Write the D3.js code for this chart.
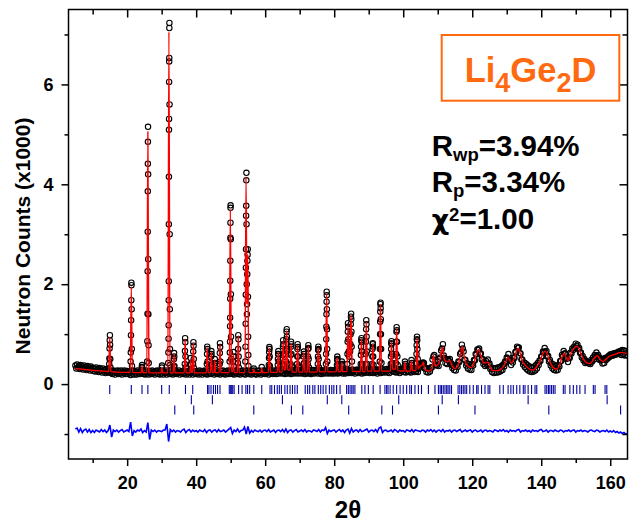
<!DOCTYPE html>
<html><head><meta charset="utf-8">
<script src="https://cdn.jsdelivr.net/npm/d3@7"></script>
<style>
body{margin:0;background:#fff}
svg{display:block}
text{font-family:Arial,"Liberation Sans",Helvetica,sans-serif;font-weight:bold}
</style>
</head><body>
<svg id="c" width="630" height="525"></svg>
<script>
// ===== DATA (2θ in degrees, counts in units of 1000) =====
const xMajorTicks = [20,40,60,80,100,120,140,160];
const xMinorTicks = [10,30,50,70,90,110,130,150];
const yMajorTicks = [0,2,4,6];
const yMinorTicks = [-1,1,3,5,7];

// observed scan, regular step
const scanStart = 5, scanStep = 0.25;
const obsCounts = [
.37,.31,.39,.33,.36,.30,.38,.32,.35,.29,.37,.31,.34,.28,.36,.30,.33,.27,.35,.29,
.32,.26,.31,.25,.33,.27,.30,.24,.32,.26,.29,.23,.31,.25,.28,.22,.30,.24,.27,.23,
.27,.22,.26,.20,.27,.23,.19,.26,.22,.27,.20,.25,.21,.27,.19,.25,.22,.27,.20,.24,
.26,.20,.25,.22,.18,.27,.21,.25,.19,.26,.23,.19,.27,.21,.24,.20,.26,.22,.27,.20,
.24,.19,.27,.21,.25,.19,.26,.22,.20,.27,.21,.25,.19,.26,.22,.27,.20,.24,.19,.26,
.21,.26,.19,.25,.22,.27,.19,.24,.21,.26,.20,.27,.22,.19,.25,.21,.27,.20,.24,.22,
.27,.19,.24,.21,.26,.20,.27,.22,.19,.25,.21,.26,.19,.27,.22,.24,.19,.26,.21,.25,
.20,.26,.22,.19,.27,.21,.25,.19,.26,.22,.27,.20,.24,.19,.26,.21,.27,.20,.25,.22,
.26,.19,.24,.21,.27,.20,.25,.22,.19,.26,.21,.27,.20,.24,.19,.26,.22,.27,.20,.25,
.21,.27,.20,.24,.19,.26,.22,.27,.20,.25,.21,.19,.26,.22,.27,.20,.24,.19,.26,.22,
.27,.20,.25,.21,.19,.26,.22,.27,.20,.24,.19,.26,.21,.27,.22,.19,.25,.21,.27,.23,
.20,.27,.22,.25,.19,.28,.21,.26,.23,.20,.27,.22,.25,.20,.28,.21,.26,.22,.27,.21,
.28,.22,.26,.20,.27,.23,.21,.28,.22,.26,.20,.27,.23,.28,.21,.25,.22,.28,.21,.26,
.22,.28,.21,.26,.23,.28,.20,.27,.22,.25,.21,.28,.23,.20,.27,.22,.28,.21,.26,.23,
.28,.21,.26,.23,.28,.20,.27,.22,.25,.21,.28,.23,.27,.21,.26,.22,.28,.21,.27,.23,
.21,.28,.23,.27,.21,.26,.22,.29,.23,.27,.21,.28,.24,.21,.29,.23,.27,.22,.28,.24,
.22,.29,.23,.27,.21,.28,.24,.29,.22,.27,.23,.29,.21,.28,.24,.22,.29,.23,.28,.24,
.29,.22,.27,.24,.30,.22,.28,.23,.29,.24,.21,.29,.25,.28,.22,.30,.24,.27,.23,.29,
.24,.30,.23,.28,.22,.29,.31,.34,.26,.30,.24,.29,.23,.30,.25,.29,.22,.30,.25,.28,
.31,.24,.29,.23,.30,.25,.31,.24,.29,.23,.31,.26,.29,.24,.31,.25,.30,.24,.31,.35,
.40,.37,.41,.43,.42,.31,.32,.24,.31,.23,.30,.25,.33,.33,.49,.55,.58,.38,.39,.37,
.45,.36,.50,.53,.67,.71,.80,.57,.52,.42,.50,.40,.49,.46,.50,.39,.41,.32,.37,.28,
.35,.27,.38,.34,.45,.44,.60,.63,.79,.71,.65,.49,.48,.37,.41,.31,.40,.29,.38,.28,
.40,.37,.48,.47,.60,.59,.69,.68,.71,.60,.61,.49,.50,.40,.44,.36,.46,.38,.49,.39,
.41,.30,.33,.24,.32,.22,.31,.23,.32,.23,.33,.24,.34,.26,.36,.28,.39,.35,.45,.43,
.53,.51,.60,.47,.48,.38,.47,.43,.53,.52,.64,.64,.75,.72,.73,.62,.61,.49,.49,.39,
.43,.34,.41,.30,.38,.27,.35,.25,.34,.24,.33,.25,.35,.27,.38,.31,.42,.38,.47,.46,
.55,.55,.65,.63,.72,.63,.66,.55,.56,.45,.48,.37,.41,.31,.39,.28,.36,.27,.36,.28,
.38,.35,.46,.46,.58,.55,.66,.61,.61,.50,.52,.44,.53,.52,.63,.61,.71,.68,.75,.72,
.81,.76,.79,.70,.72,.62,.63,.53,.56,.47,.50,.42,.46,.43,.44,.41,.43,.40,.48,.45,
.53,.49,.58,.55,.63,.55,.58,.49,.52,.47,.49,.41,.50,.42,.52,.48,.53,.51,.56,.54,
.59,.56,.60,.57,.61,.58,.62,.59,.63,.61,.65,.62,.66,.58,.68,.59,.67,.57,.66,.58,
.63];

// observed points on the flanks/tops of the sharp Bragg peaks [2θ, counts]
const peakObs = [
[14.8,.4],[14.85,.51],[14.9,.71],[14.95,.88],[15,.98],[15.05,.79],[15.1,.5],[15.15,.33],
[21,.45],[21.05,.63],[21.1,.98],[21.15,1.28],[21.2,1.68],[21.22,2.03],[21.25,1.98],[21.3,1.5],[21.35,.7],[21.4,.36],
[24.25,.34],[24.3,.38],[24.35,.33],
[25.8,.45],[25.85,.86],[25.9,1.41],[25.93,2.26],[25.96,3.05],[25.98,3.86],[26,4.41],[26.02,4.85],[26.05,5.15],[26.08,4.2],[26.1,2.5],[26.15,1.4],[26.2,.78],[26.25,.42],
[30.05,.33],[30.1,.37],
[31.9,.42],[31.95,.63],[32,.91],[32.02,1.18],[32.04,1.68],[32.06,2.06],[32.08,3.2],[32.1,4.15],[32.12,5.09],[32.14,5.31],[32.16,6.05],[32.18,6.46],[32.2,6.53],[32.22,7.13],[32.24,7.23],[32.28,5.6],[32.32,3],[32.36,1.5],[32.4,.7],[32.45,.38],
[33.5,.35],[33.55,.5],[33.6,.62],[33.65,.55],[33.7,.36],
[36.7,.4],[36.75,.66],[36.8,.92],[36.85,.84],[36.9,.55],[36.95,.33],
[38.35,.4],[38.4,.52],[38.45,.38],
[39.1,.4],[39.15,.65],[39.2,.84],[39.25,.77],[39.3,.5],[39.35,.32],
[43.1,.4],[43.15,.6],[43.2,.75],[43.25,.7],[43.3,.45],
[44.3,.38],[44.35,.55],[44.4,.66],[44.45,.6],[44.5,.38],
[45.35,.37],[45.4,.5],[45.45,.42],
[46.8,.4],[46.85,.62],[46.9,.82],[46.95,.74],[47,.45],
[49.7,.45],[49.75,.63],[49.8,.85],[49.82,1.16],[49.84,1.33],[49.86,1.71],[49.88,2.07],[49.9,2.47],[49.92,2.93],[49.94,3.23],[49.96,3.53],[49.98,3.58],[50.02,2.9],[50.06,1.8],[50.1,.95],[50.15,.5],
[50.75,.45],[50.8,.64],[50.85,.55],[50.9,.35],
[52.1,.42],[52.15,.7],[52.2,.98],[52.25,.9],[52.3,.55],[52.35,.33],
[54.25,.45],[54.3,.75],[54.35,1.21],[54.38,1.79],[54.41,2.33],[54.44,2.7],[54.47,3.37],[54.5,3.57],[54.53,4.08],[54.56,4.23],[54.6,3.2],[54.65,2],[54.7,1.4],[54.75,1.6],[54.8,2.2],[54.85,2.47],[54.9,2.59],[54.95,2.7],[55,1.75],[55.05,.95],[55.1,.58],[55.15,.36],
[56.7,.31],[59,.34],
[61.05,.38],[61.1,.52],[61.15,.64],[61.2,.74],[61.25,.7],[61.3,.55],[61.35,.36],
[63.65,.38],[63.7,.5],[63.75,.6],[63.8,.66],[63.85,.6],[63.9,.45],
[65.05,.4],[65.1,.58],[65.15,.76],[65.2,.88],[65.25,.8],[65.3,.6],[65.4,.38],
[66.05,.45],[66.1,.66],[66.15,.9],[66.2,1.05],[66.25,1.1],[66.3,.95],[66.35,.7],[66.45,.4],
[67.35,.4],[67.4,.58],[67.45,.75],[67.5,.85],[67.55,.8],[67.6,.6],[67.7,.35],
[69.25,.4],[69.3,.55],[69.35,.7],[69.4,.8],[69.45,.74],[69.5,.55],[69.6,.35],
[71.1,.4],[71.15,.55],[71.2,.65],[71.25,.6],[71.3,.42],
[72.35,.4],[72.4,.55],[72.45,.7],[72.5,.78],[72.55,.72],[72.6,.5],[72.7,.33],
[75.25,.4],[75.3,.55],[75.35,.68],[75.4,.75],[75.45,.7],[75.5,.5],[75.6,.33],
[77.6,.4],[77.65,.6],[77.7,.9],[77.73,1.15],[77.76,1.4],[77.79,1.65],[77.82,1.85],[77.85,1.78],[77.88,1.5],[77.92,1.1],[77.96,.7],[78,.45],
[80.8,.38],[80.85,.48],[80.9,.55],[80.95,.5],[81,.36],
[82.15,.38],[82.2,.45],[82.25,.4],
[83.8,.4],[83.85,.6],[83.9,.85],[83.95,1.05],[84,1.22],[84.05,1.15],[84.1,.9],[84.2,.65],[84.3,.55],
[84.6,.65],[84.7,.8],[84.75,1],[84.8,1.2],[84.85,1.35],[84.9,1.41],[84.95,1.3],[85,1.05],[85.05,.75],[85.15,.45],
[87.7,.4],[87.75,.58],[87.8,.75],[87.85,.88],[87.9,.92],[87.95,.85],[88,.65],[88.1,.4],
[89.1,.4],[89.15,.6],[89.2,.85],[89.25,1.1],[89.3,1.28],[89.35,1.2],[89.4,.95],[89.45,.65],[89.55,.4],
[91,.4],[91.05,.55],[91.1,.7],[91.15,.8],[91.2,.82],[91.25,.75],[91.3,.55],[91.4,.38],
[93.2,.45],[93.25,.7],[93.3,1],[93.33,1.25],[93.36,1.45],[93.4,1.6],[93.43,1.63],[93.46,1.52],[93.5,1.3],[93.55,1],[93.6,.7],[93.7,.42],
[96.4,.4],[96.45,.55],[96.5,.7],[96.55,.82],[96.6,.86],[96.65,.8],[96.7,.6],[96.8,.42],
[97.9,.42],[97.95,.6],[98,.85],[98.05,1.05],[98.1,1.14],[98.15,1.08],[98.2,.85],[98.3,.55],[98.4,.38],
[100.4,.36],[100.5,.45],[100.6,.4],
[102.3,.38],[102.4,.48],[102.5,.42],
[103.8,.42],[103.85,.6],[103.9,.78],[103.95,.9],[104,.95],[104.05,.88],[104.1,.7],[104.2,.5]
];

// calculated (Rietveld) profile [2θ, counts]
const calcProfile = [
[5,.31],[6,.305],[7,.30],[8,.29],[9,.285],[10,.275],[11,.27],[12,.265],[13,.26],[14,.255],
[14.65,.25],[14.95,.94],[15.25,.25],[17,.24],[19,.235],[20.9,.235],[21.2,1.95],[21.5,.235],[23,.23],
[24.05,.23],[24.3,.36],[24.55,.23],[25.7,.23],[26.0,5.05],[26.3,.23],[28,.225],[29.8,.225],[30.05,.33],[30.3,.225],
[31.8,.225],[32.1,7.05],[32.4,.225],[33.35,.225],[33.6,.6],[33.85,.225],[35,.225],[36.55,.225],[36.8,.9],[37.05,.225],
[38.2,.225],[38.4,.5],[38.6,.235],[38.95,.23],[39.2,.82],[39.45,.225],[41,.225],[42.95,.225],[43.2,.73],[43.45,.23],
[44.15,.23],[44.4,.64],[44.65,.23],[45.2,.23],[45.4,.48],[45.6,.23],[46.65,.23],[46.9,.8],[47.15,.23],[48.5,.23],
[49.6,.23],[49.9,3.5],[50.2,.25],[50.6,.25],[50.8,.62],[51.0,.23],[51.95,.23],[52.2,.97],[52.45,.23],
[54.15,.23],[54.45,4.15],[54.7,1.6],[54.95,2.6],[55.25,.23],[56.5,.23],[56.7,.3],[56.9,.23],[58.75,.23],[59.0,.32],[59.25,.23],
[60.9,.235],[61.2,.72],[61.5,.235],[63.5,.235],[63.8,.64],[64.1,.24],[64.9,.24],[65.2,.86],[65.5,.28],[65.9,.3],[66.2,1.07],[66.5,.28],
[67.2,.28],[67.5,.82],[67.8,.24],[69.1,.24],[69.4,.78],[69.7,.24],[70.9,.24],[71.2,.63],[71.5,.24],[72.2,.24],[72.5,.76],[72.8,.24],
[75.1,.245],[75.4,.73],[75.7,.245],[77.5,.245],[77.8,1.8],[78.1,.245],[80.6,.25],[80.9,.53],[81.2,.25],[81.95,.25],[82.2,.43],[82.45,.25],
[83.7,.25],[84.0,1.18],[84.3,.5],[84.6,.6],[84.9,1.38],[85.2,.26],[87.6,.25],[87.9,.9],[88.2,.25],[89.0,.25],[89.3,1.25],[89.6,.26],
[90.9,.26],[91.2,.8],[91.5,.26],[93.1,.26],[93.4,1.6],[93.7,.26],[96.3,.26],[96.6,.84],[96.9,.3],[97.8,.3],[98.1,1.1],[98.4,.27],
[100.2,.26],[100.5,.44],[100.8,.26],[102.1,.26],[102.4,.46],[102.7,.27],[103.7,.27],[104.0,.92],[104.3,.3],[104.9,.36],
[105.5,.38],[105.8,.44],[106.2,.3],[106.8,.27],[107.4,.26],[108.3,.3],[108.8,.58],[109.3,.36],[110.2,.4],[110.8,.55],[111.4,.74],
[111.9,.5],[112.6,.45],[113.5,.47],[114.2,.36],[115.0,.31],[116.0,.4],[116.6,.6],[117.1,.75],[117.6,.58],[118.3,.4],[119.0,.35],
[119.8,.33],[120.6,.45],[121.2,.6],[121.9,.69],[122.6,.55],[123.4,.42],[124.6,.44],[125.3,.32],[126.1,.27],[127.2,.27],[128.3,.3],
[129.3,.38],[130.4,.54],[131.3,.42],[132.2,.52],[132.8,.66],[133.3,.72],[133.9,.62],[134.6,.45],[135.5,.37],[136.6,.3],[137.7,.28],
[138.7,.35],[139.6,.45],[140.4,.6],[141.1,.66],[141.7,.6],[142.5,.45],[143.5,.33],[144.5,.3],[145.4,.4],[146.1,.56],[146.7,.62],
[147.3,.52],[147.8,.47],[148.5,.6],[149.3,.7],[150.4,.76],[151.3,.64],[152.2,.5],[153.1,.43],[154.1,.41],[155.2,.5],[156.2,.57],
[157.0,.5],[157.9,.45],[158.8,.5],[159.8,.56],[160.6,.58],[161.6,.6],[162.6,.63],[163.5,.63],[164.3,.62],[165,.61]
];

// difference curve (obs - calc), regular step, plotted with an offset
const diffStart = 5, diffStep = 0.5, diffOffset = -0.94;
const diffCounts = [
.04,.06,-.02,.05,-.03,.02,.04,-.02,.03,-.03,
.01,-.03,.02,.00,-.02,.03,-.01,.02,-.03,.01,
.12,-.12,.02,-.01,.02,-.02,.01,.03,-.02,.00,
.02,-.01,.18,-.10,.01,-.02,.02,.00,.04,-.03,
.01,-.02,.17,-.17,.02,-.01,.02,-.02,.01,.00,
-.01,.02,.02,.14,-.21,.03,-.01,.02,-.02,.01,
.00,-.02,.02,.04,-.03,.01,.03,-.02,.02,-.01,
.01,-.02,.02,.00,-.01,.03,-.03,.01,.02,-.02,
.01,.02,-.02,.03,-.01,.00,.02,-.02,.01,.04,
.07,-.05,.02,-.01,.04,-.02,.01,.02,.08,-.06,
.09,-.04,.01,-.02,.02,.00,-.01,.02,-.02,.01,
.02,-.01,.03,-.02,.00,.02,-.03,.01,.02,-.01,
.03,-.02,.04,-.03,.01,.02,-.02,.01,.03,-.02,
.00,.02,-.01,.03,-.02,.01,.00,-.02,.02,.01,
-.01,.03,-.02,.02,.01,.07,-.05,.02,-.01,.01,
.02,-.02,.01,.03,-.01,.02,-.03,.02,.04,-.04,
.05,-.02,.01,.02,-.02,.03,-.01,.00,.02,.04,
-.02,.01,.02,-.01,.03,-.02,.06,.08,-.03,.01,
.02,-.01,.00,.02,-.02,.03,.01,-.02,.02,.00,
.01,-.02,.02,.01,-.01,.03,-.02,.02,.01,.00,
-.01,.02,.01,-.02,.02,.00,.03,-.01,.02,-.02,
.01,.02,-.01,.03,-.02,.01,.00,.02,-.02,.01,
.02,-.01,.01,.03,-.02,.00,.02,-.01,.01,.02,
-.02,.01,.02,-.01,.00,.02,-.02,.01,.02,-.01,
.01,.00,-.02,.02,.01,-.01,.02,.00,.03,-.01,
.01,-.02,.02,.00,.01,-.01,.02,.03,-.02,.01,
.00,.02,-.01,.01,-.02,.02,.00,.01,-.01,.02,
.03,-.01,.00,.02,-.02,.01,.01,-.01,.02,.00,
-.01,.02,.01,-.02,.01,.00,.02,-.01,.01,.02,
-.02,.01,.00,.02,-.01,.01,.00,-.02,.01,.02,
.00,-.01,.02,.01,-.02,.00,.01,-.01,.02,-.02,
.00,-.02,.01,-.03,-.01,-.04,-.02,-.05,-.03,-.06,
-.05];

// Bragg reflection positions (2θ) for the three phases
const reflPhase1 = [14.95,21.2,24.3,26.0,30.0,32.2,36.9,39.0,43.3,43.7,44.3,45.0,45.6,46.2,46.9,49.6,50.0,50.3,50.6,51.0,
52.3,53.3,54.4,54.9,55.5,56.7,59.0,61.4,61.9,62.7,63.5,64.1,64.7,65.7,66.4,67.2,67.9,68.6,69.3,71.6,72.3,72.9,73.8,74.4,
75.4,76.1,76.8,77.6,78.6,79.3,79.9,80.7,81.7,83.6,84.1,84.6,85.1,85.5,86.0,88.0,88.9,89.9,91.3,93.3,94.7,95.2,95.6,96.2,
97.1,98.1,99.1,100.0,101.0,101.9,102.4,103.4,104.4,105.3,107.3,109.2,110.2,110.7,111.1,111.6,112.1,112.6,113.0,113.5,
114.0,115.9,116.4,116.9,117.4,117.9,118.4,119.3,120.3,121.3,121.7,122.7,123.7,124.6,125.1,128.0,129.0,130.4,131.2,131.9,
132.9,133.8,134.8,135.3,136.2,137.2,138.2,138.7,141.1,141.6,142.1,142.5,143.0,143.5,144.0,146.4,146.9,148.3,149.3,150.3,
151.2,152.7,155.1,155.6,158.5,159.0];
const reflPhase2 = [38.6,44.7,65.0,78.0,82.2,98.7,111.3,116.0,136.2,159.1];
const reflPhase3 = [33.8,39.3,56.7,67.6,70.9,84.2,93.8,96.9,110.2,120.8,142.2,163.0];

const sampleName = ["Li","4","Ge","2","D"];
const fitStats = [
  {main:"R", idx:"wp", kind:"sub", rest:"=3.94%"},
  {main:"R", idx:"p",  kind:"sub", rest:"=3.34%"},
  {main:"\u03C7", idx:"2", kind:"sup", rest:"=1.00"}
];

// ===== DRAWING =====
const svg = d3.select("#c");
const L=68.5, R=627.5, T=9.5, B=459;
const x = d3.scaleLinear().domain([3,165]).range([L,R]);
const y = d3.scaleLinear().domain([-1.5,7.5]).range([B,T]);

svg.append("defs").append("clipPath").attr("id","clip")
  .append("rect").attr("x",L).attr("y",T).attr("width",R-L).attr("height",B-T);
const plot = svg.append("g").attr("clip-path","url(#clip)");

const obsPts = obsCounts.map((c,i)=>[scanStart+i*scanStep, c]).concat(peakObs);
plot.append("g").selectAll("circle").data(obsPts).join("circle")
  .attr("cx",d=>x(d[0])).attr("cy",d=>y(d[1])).attr("r",2.7)
  .attr("fill","none").attr("stroke","#000").attr("stroke-width",1.1);

plot.append("path").datum(calcProfile)
  .attr("d", d3.line().x(d=>x(d[0])).y(d=>y(d[1])).curve(d3.curveMonotoneX))
  .attr("fill","none").attr("stroke","#ff0000").attr("stroke-width",1.4);

// reflection tick rows
[reflPhase1, reflPhase2, reflPhase3].forEach((arr,k)=>{
  const top = -0.02 - 0.205*k, bot = top - 0.18;
  plot.append("g").selectAll("line").data(arr).join("line")
    .attr("x1",d=>x(d)).attr("x2",d=>x(d)).attr("y1",y(top)).attr("y2",y(bot))
    .attr("stroke","#0000a0").attr("stroke-width",1.1);
});

const diffPts = diffCounts.map((c,i)=>[diffStart+i*diffStep, diffOffset+c]);
plot.append("path").datum(diffPts)
  .attr("d", d3.line().x(d=>x(d[0])).y(d=>y(d[1])))
  .attr("fill","none").attr("stroke","#0000ff").attr("stroke-width",1.6);

// frame
svg.append("rect").attr("x",L).attr("y",T).attr("width",R-L).attr("height",B-T)
  .attr("fill","none").attr("stroke","#000").attr("stroke-width",1.5);

function styleAxis(g, fs){
  g.select(".domain").remove();
  g.selectAll(".tick line").attr("stroke","#000").attr("stroke-width",1.5);
  g.selectAll("text").attr("fill","#000").style("font-size",fs+"px").style("font-weight","bold");
}
styleAxis(svg.append("g").attr("transform",`translate(0,${B})`)
  .call(d3.axisBottom(x).tickValues(xMajorTicks).tickSize(7).tickPadding(10).tickFormat(d3.format("d"))),18);
styleAxis(svg.append("g").attr("transform",`translate(0,${B})`)
  .call(d3.axisBottom(x).tickValues(xMinorTicks).tickSize(4).tickFormat("")),18);
styleAxis(svg.append("g").attr("transform",`translate(0,${T})`)
  .call(d3.axisTop(x).tickValues(xMajorTicks).tickSize(-8).tickFormat("")),18);
styleAxis(svg.append("g").attr("transform",`translate(0,${T})`)
  .call(d3.axisTop(x).tickValues(xMinorTicks).tickSize(-5).tickFormat("")),18);
styleAxis(svg.append("g").attr("transform",`translate(${L},0)`)
  .call(d3.axisLeft(y).tickValues(yMajorTicks).tickSize(7).tickPadding(8).tickFormat(d3.format("d"))),18);
styleAxis(svg.append("g").attr("transform",`translate(${L},0)`)
  .call(d3.axisLeft(y).tickValues(yMinorTicks).tickSize(4).tickFormat("")),18);
styleAxis(svg.append("g").attr("transform",`translate(${R},0)`)
  .call(d3.axisRight(y).tickValues(yMajorTicks).tickSize(-8).tickFormat("")),18);
styleAxis(svg.append("g").attr("transform",`translate(${R},0)`)
  .call(d3.axisRight(y).tickValues(yMinorTicks).tickSize(-5).tickFormat("")),18);

// axis titles
svg.append("text").attr("transform","translate(30,236) rotate(-90)")
  .attr("text-anchor","middle").style("font-size","21px").text("Neutron Counts (x1000)");
svg.append("text").attr("x",348).attr("y",518).attr("text-anchor","middle")
  .style("font-size","24px").text("2\u03B8");

// sample label box
svg.append("rect").attr("x",441.7).attr("y",35).attr("width",177.6).attr("height",65.7)
  .attr("fill","none").attr("stroke","#ff6a10").attr("stroke-width",2);
const nm = svg.append("text").attr("x",530.5).attr("y",81.7).attr("text-anchor","middle")
  .attr("fill","#ff6a10").style("font-size","34.5px");
sampleName.forEach((s,i)=>{
  const isSub = i%2===1;
  nm.append("tspan").text(s).style("font-size", isSub?"27px":"34.5px")
    .attr("dy", isSub ? 10 : (i>0 ? -10 : 0));
});

// fit statistics
const baselines = [156, 192, 229];
fitStats.forEach((s,i)=>{
  const t = svg.append("text").attr("x",431.7).attr("y",baselines[i]).style("font-size","29.5px").attr("fill","#000");
  const m = t.append("tspan").text(s.main);
  if (s.kind==="sup") m.style("font-family","'DejaVu Sans',sans-serif").style("font-size","27px");
  const off = s.kind==="sub" ? 5 : -8;
  t.append("tspan").text(s.idx).style("font-size","18.5px").attr("dy",off);
  t.append("tspan").text(s.rest).attr("dy",-off);
});
</script>
</body></html>
